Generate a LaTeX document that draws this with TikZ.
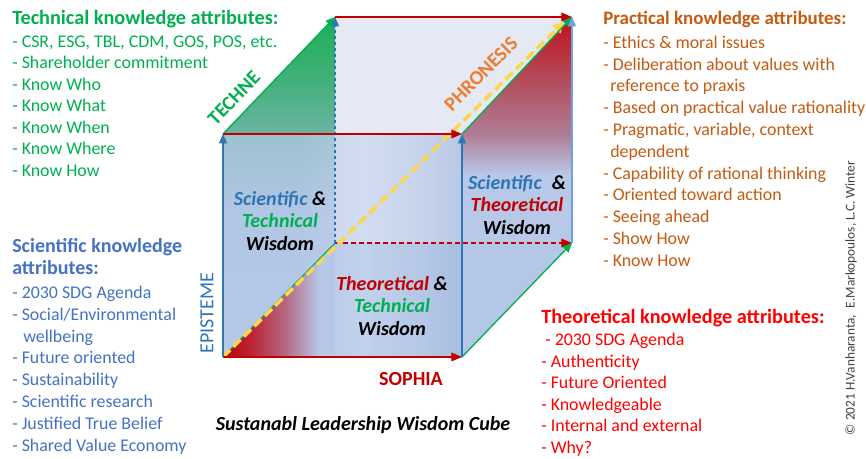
\documentclass[tikz,border=0pt]{standalone}
\usepackage{fontspec}
\setmainfont{Carlito}
\usetikzlibrary{arrows.meta}

% text colours
\definecolor{tgreen}{HTML}{00B050}
\definecolor{torange}{HTML}{C55A11}
\definecolor{tblue}{HTML}{4472C4}
\definecolor{tred}{HTML}{FF0000}
% edge colours
\definecolor{ered}{HTML}{C00000}
\definecolor{eblue}{HTML}{2E75B6}
\definecolor{elblue}{HTML}{6FA3DA}
\definecolor{egreen}{HTML}{00B050}
\definecolor{eyellow}{HTML}{FFD54A}
\definecolor{phron}{HTML}{ED7D31}
\definecolor{copyc}{HTML}{404040}
% face colours
\definecolor{backc}{HTML}{E4E9F4}
\definecolor{floorc}{HTML}{B4C7E7}
\definecolor{lfA}{HTML}{B4C7E7}
\definecolor{lfB}{HTML}{A8C2E0}
\definecolor{lfC}{HTML}{6CB4A4}
\definecolor{lfD}{HTML}{42B07A}
\definecolor{lfE}{HTML}{1CAE5A}
\definecolor{rfA}{HTML}{B8C8E8}
\definecolor{rfB}{HTML}{B07C95}
\definecolor{rfC}{HTML}{B44C5C}
\definecolor{rfD}{HTML}{C0101A}
\definecolor{ffA}{HTML}{B8C9E8}
\definecolor{ffB}{HTML}{CAD7EF}
\definecolor{ffC}{HTML}{A2B8DF}
\definecolor{rtA}{HTML}{C00000}
\definecolor{rtB}{HTML}{BC2232}
\definecolor{rtC}{HTML}{B46882}
\definecolor{rtD}{HTML}{B6C7E8}

% left face: green at the top fading to blue
\pgfdeclareverticalshading{leftface}{100bp}{color(0bp)=(lfA); color(25bp)=(lfA);
  color(46bp)=(lfB); color(57.8bp)=(lfC); color(65.7bp)=(lfD); color(75bp)=(lfE); color(100bp)=(lfE)}
% right face: dark red at the top fading to blue
\pgfdeclareverticalshading{rightface}{100bp}{color(0bp)=(rfA); color(25bp)=(rfA);
  color(51.8bp)=(rfA); color(57.8bp)=(rfB); color(65.7bp)=(rfC); color(75bp)=(rfD); color(100bp)=(rfD)}
% front face: soft blue band
\pgfdeclarehorizontalshading{frontface}{100bp}{color(0bp)=(ffA); color(25bp)=(ffA);
  color(41bp)=(ffA); color(54bp)=(ffB); color(66bp)=(ffA); color(75bp)=(ffC); color(100bp)=(ffC)}
% floor triangle: red corner fading to blue
\pgfdeclarehorizontalshading{redfloor}{100bp}{color(0bp)=(rtA); color(25bp)=(rtA);
  color(37bp)=(rtB); color(52.7bp)=(rtC); color(68bp)=(rtD); color(100bp)=(rtD)}

\begin{document}
\begin{tikzpicture}[x=0.75pt,y=-0.75pt,
  headtxt/.style={anchor=base west,inner sep=0pt,font=\fontsize{15.2}{18}\selectfont\bfseries},
  itemtxt/.style={anchor=base west,inner sep=0pt,font=\fontsize{13.4}{16}\selectfont},
  facetxt/.style={align=center,inner sep=0pt,font=\fontsize{15}{17}\selectfont\bfseries\itshape},
  axistxt/.style={inner sep=0pt,font=\fontsize{15}{18}\selectfont\bfseries},
  redarrow/.style={draw=ered,line width=1.2pt,-{Triangle[length=8pt,width=6.5pt]}},
  bluearrow/.style={draw=eblue,line width=1pt,-{Triangle[length=7pt,width=6pt]}},
  greenarrow/.style={draw=egreen,line width=1pt,-{Triangle[length=7pt,width=6pt]}},
  ]
\useasboundingbox (0,0) rectangle (866,459);

% cube corners
\coordinate (A) at (223,357);
\coordinate (B) at (462,357);
\coordinate (C) at (462,134);
\coordinate (D) at (223,134);
\coordinate (E) at (335,243);
\coordinate (F) at (572,243);
\coordinate (G) at (572,17);
\coordinate (H) at (335,17);
\coordinate (Y) at (564,22);

% faces, back to front
\fill[backc] (E) -- (F) -- (G) -- (H) -- cycle;
\fill[backc] (D) -- (C) -- (G) -- (H) -- cycle;
\shade[shading=leftface] (A) -- (D) -- (H) -- (E) -- cycle;
\shade[shading=rightface] (B) -- (C) -- (G) -- (F) -- cycle;
\fill[floorc] (A) -- (B) -- (F) -- (E) -- cycle;
\shade[shading=frontface,opacity=0.65] (A) rectangle (C);
\shade[shading=redfloor] (A) -- (E |- A) -- (E) -- cycle;

% hidden edges
\draw[draw=egreen,line width=0.8pt] (A) -- (E);
\draw[redarrow,line width=1pt,dash pattern=on 3.5pt off 2.5pt] (E) -- (F);
\draw[bluearrow,line width=0.9pt,dash pattern=on 2.5pt off 2pt] (E) -- (H);

% phronesis diagonal
\draw[draw=eyellow,line width=2.6pt,dash pattern=on 7.5pt off 3.5pt,
  -{Triangle[length=8pt,width=8pt]}] (A) -- (Y);

% visible edges
\draw[greenarrow] (D) -- (H);
\draw[greenarrow] (C) -- (G);
\draw[greenarrow] (B) -- (F);
\draw[redarrow] (H) -- (G);
\draw[redarrow] (D) -- (C);
\draw[redarrow] (A) -- (B);
\draw[bluearrow,draw=elblue] (F) -- (G);
\draw[bluearrow] (A) -- (D);
\draw[bluearrow] (B) -- (C);

% axis labels
\node[axistxt,text=tgreen,rotate=46] (techne) at (234,98) {TECHNE};
\node[axistxt,text=phron,rotate=45] (phronesis) at (481,74) {PHRONESIS};
\node[axistxt,font=\fontsize{15}{18}\selectfont,text=eblue,rotate=90] (episteme) at (207,313) {EPISTEME};
\node[axistxt,text=ered] (sophia) at (411,379) {SOPHIA};

% face labels
\node[facetxt] (sciTech) at (280,221)
  {\textcolor{eblue}{Scientific} \&\\ \textcolor{tgreen}{Technical}\\ Wisdom};
\node[facetxt] (sciTheo) at (517,205)
  {\textcolor{eblue}{Scientific}\enspace\&\\ \textcolor{ered}{Theoretical}\\ Wisdom};
\node[facetxt] (theoTech) at (392,306)
  {\textcolor{ered}{Theoretical} \&\\ \textcolor{tgreen}{Technical}\\ Wisdom};

% caption
\node[facetxt] (caption) at (363,425) {Sustanabl Leadership Wisdom Cube};

% technical knowledge
\node[headtxt,text=tgreen] (techHead) at (12,25) {Technical knowledge attributes:};
\foreach \t [count=\i from 0] in {{- CSR, ESG, TBL, CDM, GOS, POS, etc.},{- Shareholder commitment},
  {- Know Who},{- Know What},{- Know When},{- Know Where},{- Know How}}
  \node[itemtxt,text=tgreen,name=tech\i] at (12,{47.1+21.55*\i}) {\t};

% practical knowledge
\node[headtxt,font=\fontsize{14.2}{17}\selectfont\bfseries,text=torange] (pracHead) at (603,25)
  {Practical knowledge attributes:};
\foreach \x/\t [count=\i from 0] in {603/{- Ethics \& moral issues},603/{- Deliberation about values with},
  610/{reference to praxis},603/{- Based on practical value rationality},603/{- Pragmatic, variable, context},
  610/{dependent},603/{- Capability of rational thinking},603/{- Oriented toward action},
  603/{- Seeing ahead},603/{- Show How},603/{- Know How}}
  \node[itemtxt,text=torange,name=prac\i] at (\x,{48.4+21.8*\i}) {\t};

% scientific knowledge
\node[headtxt,font=\fontsize{15}{18}\selectfont\bfseries,text=tblue] (sciHead1) at (12,253) {Scientific knowledge};
\node[headtxt,font=\fontsize{15}{18}\selectfont\bfseries,text=tblue] (sciHead2) at (12,275) {attributes:};
\foreach \x/\t [count=\i from 0] in {12/{- 2030 SDG Agenda},12/{- Social/Environmental},23/{wellbeing},
  12/{- Future oriented},12/{- Sustainability},12/{- Scientific research},12/{- Justified True Belief},
  12/{- Shared Value Economy}}
  \node[itemtxt,text=tblue,name=sci\i] at (\x,{298.4+21.86*\i}) {\t};

% theoretical knowledge
\node[headtxt,text=tred] (theoHead) at (541,323.3) {Theoretical knowledge attributes:};
\foreach \x/\t [count=\i from 0] in {545/{- 2030 SDG Agenda},541/{- Authenticity},541/{- Future Oriented},
  541/{- Knowledgeable},541/{- Internal and external},541/{- Why?}}
  \node[itemtxt,text=tred,name=theo\i] at (\x,{345.4+21.6*\i}) {\t};

% copyright
\node[inner sep=0pt,rotate=90,text=copyc,font=\fontsize{10}{12}\selectfont] (copy) at (851,298)
  {© 2021 H.Vanharanta,\enspace E.Markopoulos, L.C. Winter};
\end{tikzpicture}
\end{document}
